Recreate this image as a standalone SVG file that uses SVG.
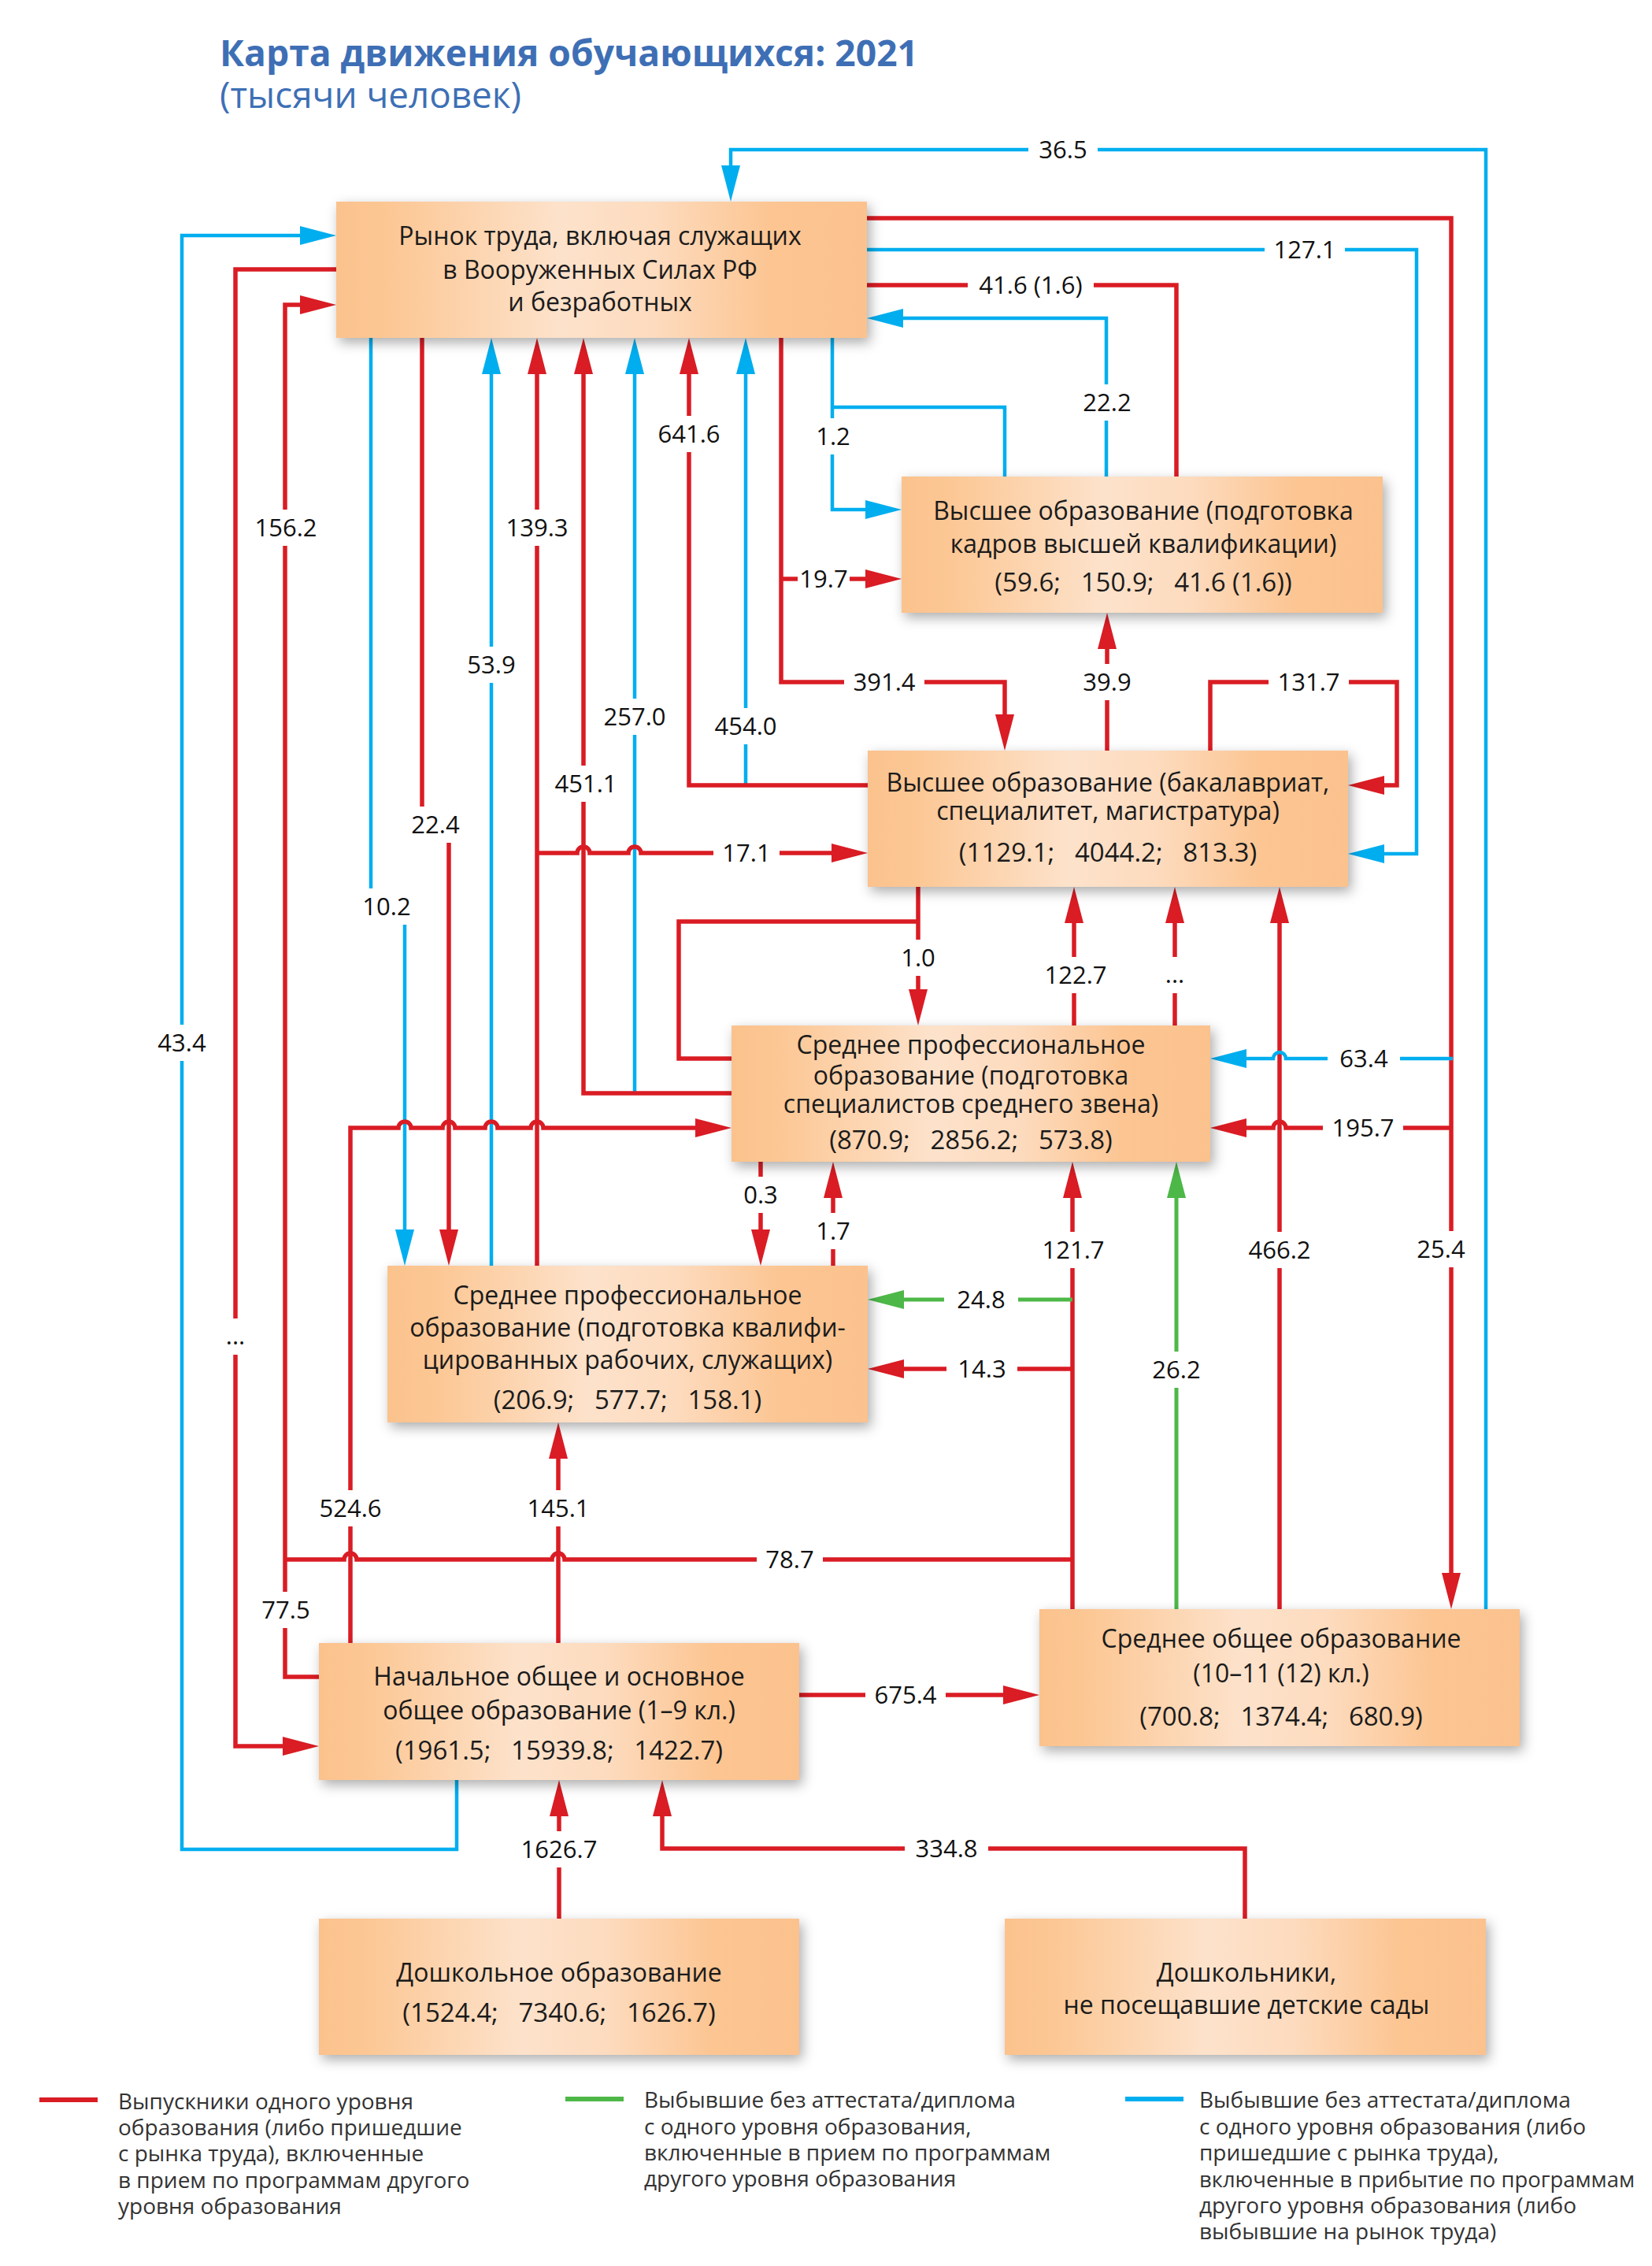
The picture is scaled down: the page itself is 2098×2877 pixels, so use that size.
<svg xmlns="http://www.w3.org/2000/svg" width="2098" height="2877" viewBox="0 0 2098 2877">
<defs>
<style>
.r{fill:none;stroke:#da1c24;stroke-width:5.5}
.b{fill:none;stroke:#00aeef;stroke-width:4.5}
.g{fill:none;stroke:#4db848;stroke-width:5}
.r.a{marker-end:url(#mR)}
.b.a{marker-end:url(#mB)}
.g.a{marker-end:url(#mG)}
.lb rect{fill:#fff}
.lb text{font-family:"Open Sans","Noto Sans",sans-serif;font-size:31px;fill:#111;text-anchor:middle}
.nd rect{fill:url(#ng);filter:url(#sh)}
.nd text{font-family:"Open Sans","Noto Sans",sans-serif;font-size:32px;fill:#1b1b1b;text-anchor:middle}
.nd text.d{font-size:33px}
.lg text{font-family:"Open Sans","Noto Sans",sans-serif;font-size:28px;fill:#333}
.ttl{font-family:"Open Sans","Noto Sans",sans-serif;fill:#3e6fb5}
</style>
<linearGradient id="ng" x1="0" y1="0" x2="1" y2="0">
<stop offset="0" stop-color="#fbc28d"/>
<stop offset="0.1" stop-color="#fcc794"/>
<stop offset="0.42" stop-color="#fde2cb"/>
<stop offset="0.6" stop-color="#fddbbe"/>
<stop offset="0.82" stop-color="#fcc592"/>
<stop offset="1" stop-color="#fbc28e"/>
</linearGradient>
<filter id="sh" x="-10%" y="-20%" width="125%" height="150%">
<feDropShadow dx="4" dy="6" stdDeviation="8" flood-color="#000" flood-opacity="0.33"/>
</filter>
<marker id="mR" markerUnits="userSpaceOnUse" markerWidth="46" markerHeight="24" refX="26" refY="12" orient="auto" overflow="visible"><path d="M0,0 L46,12 L0,24 Z" fill="#da1c24"/></marker>
<marker id="mB" markerUnits="userSpaceOnUse" markerWidth="46" markerHeight="24" refX="26" refY="12" orient="auto" overflow="visible"><path d="M0,0 L46,12 L0,24 Z" fill="#00aeef"/></marker>
<marker id="mG" markerUnits="userSpaceOnUse" markerWidth="46" markerHeight="24" refX="26" refY="12" orient="auto" overflow="visible"><path d="M0,0 L46,12 L0,24 Z" fill="#4db848"/></marker>
</defs>
<rect width="2098" height="2877" fill="#fff"/>

<g id="title">
<text class="ttl" x="279" y="84" font-size="46" font-weight="bold" textLength="887" lengthAdjust="spacingAndGlyphs">Карта движения обучающихся: 2021</text>
<text class="ttl" x="279" y="137" font-size="46" textLength="383" lengthAdjust="spacingAndGlyphs">(тысячи человек)</text>
</g>

<g id="connectors">
<path class="b a" d="M580,2260 V2348 H231 V299 H407"/>
<path class="r a" d="M427,342 H299 V2217 H385"/>
<path class="r a" d="M405,2129 H362 V387 H407"/>
<path class="b a" d="M471,429 V1151 H514 V1587"/>
<path class="r a" d="M536,429 V1047 H570 V1587"/>
<path class="b a" d="M624,1607 V449"/>
<path class="r a" d="M682,1607 V449"/>
<path class="b a" d="M806,1388 V449"/>
<path class="r a" d="M929,1388 H741 V449"/>
<path class="b a" d="M947,997 V449"/>
<path class="r a" d="M1102,997 H875 V449"/>
<path class="r a" d="M682,1083 H733 a8,8 0 0 1 16,0 H798 a8,8 0 0 1 16,0 H1082"/>
<path class="r a" d="M992,429 V866 H1276 V933"/>
<path class="r a" d="M992,735 H1125"/>
<path class="b a" d="M1057,429 V647 H1125"/>
<path class="b" d="M1276,605 V517 H1057"/>
<path class="b a" d="M1887,2043 V190 H928 V236"/>
<path class="r a" d="M1101,277 H1843 V2023"/>
<path class="b a" d="M1101,317 H1799 V1084 H1732"/>
<path class="r" d="M1101,362 H1494 V605"/>
<path class="b a" d="M1405,605 V404 H1121"/>
<path class="r a" d="M1406,953 V798"/>
<path class="r a" d="M1537,953 V866 H1774 V997 H1732"/>
<path class="r a" d="M1492,1302 V1146"/>
<path class="r a" d="M1625,2043 V1146"/>
<path class="b a" d="M1845,1344 H1633 a8,8 0 0 0 -16,0 H1557"/>
<path class="r a" d="M1845,1432 H1633 a8,8 0 0 0 -16,0 H1557"/>
<path class="r a" d="M1166,1126 V1282"/>
<path class="r" d="M1166,1170 H862 V1344 H929"/>
<path class="r a" d="M1364,1302 V1146"/>
<path class="r a" d="M445,2086 V1432 H506 a8,8 0 0 1 16,0 H562 a8,8 0 0 1 16,0 H616 a8,8 0 0 1 16,0 H674 a8,8 0 0 1 16,0 H909"/>
<path class="r a" d="M966,1475 V1587"/>
<path class="r a" d="M1058,1607 V1495"/>
<path class="r a" d="M1362,2043 V1495"/>
<path class="g a" d="M1362,1650 H1122"/>
<path class="r a" d="M1362,1738 H1122"/>
<path class="r a" d="M709,2086 V1826"/>
<path class="r" d="M1364,1980 H717 a8,8 0 0 0 -16,0 H453 a8,8 0 0 0 -16,0 H362"/>
<path class="r a" d="M1015,2152 H1300"/>
<path class="g a" d="M1494,2043 V1495"/>
<path class="r a" d="M710,2436 V2280"/>
<path class="r a" d="M1581,2436 V2347 H841 V2280"/>

<g class="lb"><rect x="189" y="1301" width="84" height="46"/><text x="231" y="1335">43.4</text></g>
<g class="lb"><rect x="279" y="1674" width="40" height="46"/><text x="299" y="1707">...</text></g>
<g class="lb"><rect x="312" y="647" width="102" height="46"/><text x="363" y="681">156.2</text></g>
<g class="lb"><rect x="321" y="2021" width="84" height="46"/><text x="363" y="2055">77.5</text></g>
<g class="lb"><rect x="961" y="1957" width="84" height="46"/><text x="1003" y="1991">78.7</text></g>
<g class="lb"><rect x="449" y="1128" width="84" height="46"/><text x="491" y="1162">10.2</text></g>
<g class="lb"><rect x="511" y="1024" width="84" height="46"/><text x="553" y="1058">22.4</text></g>
<g class="lb"><rect x="582" y="821" width="84" height="46"/><text x="624" y="855">53.9</text></g>
<g class="lb"><rect x="631" y="647" width="102" height="46"/><text x="682" y="681">139.3</text></g>
<g class="lb"><rect x="906" y="1060" width="84" height="46"/><text x="948" y="1094">17.1</text></g>
<g class="lb"><rect x="693" y="972" width="102" height="46"/><text x="744" y="1006">451.1</text></g>
<g class="lb"><rect x="755" y="887" width="102" height="46"/><text x="806" y="921">257.0</text></g>
<g class="lb"><rect x="824" y="528" width="102" height="46"/><text x="875" y="562">641.6</text></g>
<g class="lb"><rect x="896" y="899" width="102" height="46"/><text x="947" y="933">454.0</text></g>
<g class="lb"><rect x="1072" y="843" width="102" height="46"/><text x="1123" y="877">391.4</text></g>
<g class="lb"><rect x="1013" y="712" width="66" height="46"/><text x="1046" y="746">19.7</text></g>
<g class="lb"><rect x="1025" y="531" width="66" height="46"/><text x="1058" y="565">1.2</text></g>
<g class="lb"><rect x="1306" y="167" width="88" height="46"/><text x="1350" y="201">36.5</text></g>
<g class="lb"><rect x="1788" y="1563" width="84" height="46"/><text x="1830" y="1597">25.4</text></g>
<g class="lb"><rect x="1606" y="294" width="102" height="46"/><text x="1657" y="328">127.1</text></g>
<g class="lb"><rect x="1229" y="339" width="160" height="46"/><text x="1309" y="373">41.6 (1.6)</text></g>
<g class="lb"><rect x="1364" y="488" width="84" height="46"/><text x="1406" y="522">22.2</text></g>
<g class="lb"><rect x="1364" y="843" width="84" height="46"/><text x="1406" y="877">39.9</text></g>
<g class="lb"><rect x="1611" y="843" width="102" height="46"/><text x="1662" y="877">131.7</text></g>
<g class="lb"><rect x="1472" y="1215" width="40" height="46"/><text x="1492" y="1248">...</text></g>
<g class="lb"><rect x="1574" y="1564" width="102" height="46"/><text x="1625" y="1598">466.2</text></g>
<g class="lb"><rect x="1686" y="1321" width="92" height="46"/><text x="1732" y="1355">63.4</text></g>
<g class="lb"><rect x="1680" y="1409" width="102" height="46"/><text x="1731" y="1443">195.7</text></g>
<g class="lb"><rect x="1133" y="1193" width="66" height="46"/><text x="1166" y="1227">1.0</text></g>
<g class="lb"><rect x="1315" y="1215" width="102" height="46"/><text x="1366" y="1249">122.7</text></g>
<g class="lb"><rect x="394" y="1892" width="102" height="46"/><text x="445" y="1926">524.6</text></g>
<g class="lb"><rect x="933" y="1494" width="66" height="46"/><text x="966" y="1528">0.3</text></g>
<g class="lb"><rect x="1025" y="1540" width="66" height="46"/><text x="1058" y="1574">1.7</text></g>
<g class="lb"><rect x="1312" y="1564" width="102" height="46"/><text x="1363" y="1598">121.7</text></g>
<g class="lb"><rect x="1199" y="1627" width="94" height="46"/><text x="1246" y="1661">24.8</text></g>
<g class="lb"><rect x="1202" y="1715" width="90" height="46"/><text x="1247" y="1749">14.3</text></g>
<g class="lb"><rect x="658" y="1892" width="102" height="46"/><text x="709" y="1926">145.1</text></g>
<g class="lb"><rect x="1099" y="2129" width="102" height="46"/><text x="1150" y="2163">675.4</text></g>
<g class="lb"><rect x="1452" y="1716" width="84" height="46"/><text x="1494" y="1750">26.2</text></g>
<g class="lb"><rect x="650" y="2325" width="120" height="46"/><text x="710" y="2359">1626.7</text></g>
<g class="lb"><rect x="1149" y="2324" width="106" height="46"/><text x="1202" y="2358">334.8</text></g>
</g>

<g id="n-labor" class="nd"><rect x="427" y="256" width="674" height="173"/>
<text x="762" y="311">Рынок труда, включая служащих</text>
<text x="762" y="354">в Вооруженных Силах РФ</text>
<text x="762" y="395">и безработных</text></g>

<g id="n-higher-qual" class="nd"><rect x="1145" y="605" width="611" height="173"/>
<text x="1452" y="660">Высшее образование (подготовка</text>
<text x="1452" y="702">кадров высшей квалификации)</text>
<text class="d" x="1452" y="751" xml:space="preserve">(59.6;   150.9;   41.6 (1.6))</text></g>

<g id="n-higher" class="nd"><rect x="1102" y="953" width="610" height="173"/>
<text x="1407" y="1005">Высшее образование (бакалавриат,</text>
<text x="1407" y="1041">специалитет, магистратура)</text>
<text class="d" x="1407" y="1094" xml:space="preserve">(1129.1;   4044.2;   813.3)</text></g>

<g id="n-spo-mid" class="nd"><rect x="929" y="1302" width="608" height="173"/>
<text x="1233" y="1338">Среднее профессиональное</text>
<text x="1233" y="1377">образование (подготовка</text>
<text x="1233" y="1413">специалистов среднего звена)</text>
<text class="d" x="1233" y="1459" xml:space="preserve">(870.9;   2856.2;   573.8)</text></g>

<g id="n-spo-work" class="nd"><rect x="492" y="1607" width="610" height="199"/>
<text x="797" y="1656">Среднее профессиональное</text>
<text x="797" y="1697">образование (подготовка квалифи-</text>
<text x="797" y="1738">цированных рабочих, служащих)</text>
<text class="d" x="797" y="1789" xml:space="preserve">(206.9;   577.7;   158.1)</text></g>

<g id="n-basic" class="nd"><rect x="405" y="2086" width="610" height="174"/>
<text x="710" y="2140">Начальное общее и основное</text>
<text x="710" y="2183">общее образование (1–9 кл.)</text>
<text class="d" x="710" y="2234" xml:space="preserve">(1961.5;   15939.8;   1422.7)</text></g>

<g id="n-secondary" class="nd"><rect x="1320" y="2043" width="610" height="174"/>
<text x="1627" y="2092">Среднее общее образование</text>
<text x="1627" y="2136">(10–11 (12) кл.)</text>
<text class="d" x="1627" y="2191" xml:space="preserve">(700.8;   1374.4;   680.9)</text></g>

<g id="n-preschool" class="nd"><rect x="405" y="2436" width="610" height="173"/>
<text x="710" y="2516">Дошкольное образование</text>
<text class="d" x="710" y="2567" xml:space="preserve">(1524.4;   7340.6;   1626.7)</text></g>

<g id="n-nokinder" class="nd"><rect x="1276" y="2436" width="611" height="173"/>
<text x="1583" y="2516">Дошкольники,</text>
<text x="1583" y="2557">не посещавшие детские сады</text></g>

<g id="legend" class="lg">
<line x1="50" y1="2666" x2="124" y2="2666" stroke="#da1c24" stroke-width="6"/>
<text x="150" y="2678">Выпускники одного уровня</text>
<text x="150" y="2711">образования (либо пришедшие</text>
<text x="150" y="2744">с рынка труда), включенные</text>
<text x="150" y="2778">в прием по программам другого</text>
<text x="150" y="2811">уровня образования</text>
<line x1="718" y1="2665" x2="792" y2="2665" stroke="#4db848" stroke-width="6"/>
<text x="818" y="2676">Выбывшие без аттестата/диплома</text>
<text x="818" y="2710">с одного уровня образования,</text>
<text x="818" y="2743">включенные в прием по программам</text>
<text x="818" y="2776">другого уровня образования</text>
<line x1="1429" y1="2665" x2="1503" y2="2665" stroke="#00aeef" stroke-width="6"/>
<text x="1523" y="2676">Выбывшие без аттестата/диплома</text>
<text x="1523" y="2710">с одного уровня образования (либо</text>
<text x="1523" y="2743">пришедшие с рынка труда),</text>
<text x="1523" y="2777" textLength="553" lengthAdjust="spacingAndGlyphs">включенные в прибытие по программам</text>
<text x="1523" y="2810">другого уровня образования (либо</text>
<text x="1523" y="2843">выбывшие на рынок труда)</text>
</g>
</svg>
